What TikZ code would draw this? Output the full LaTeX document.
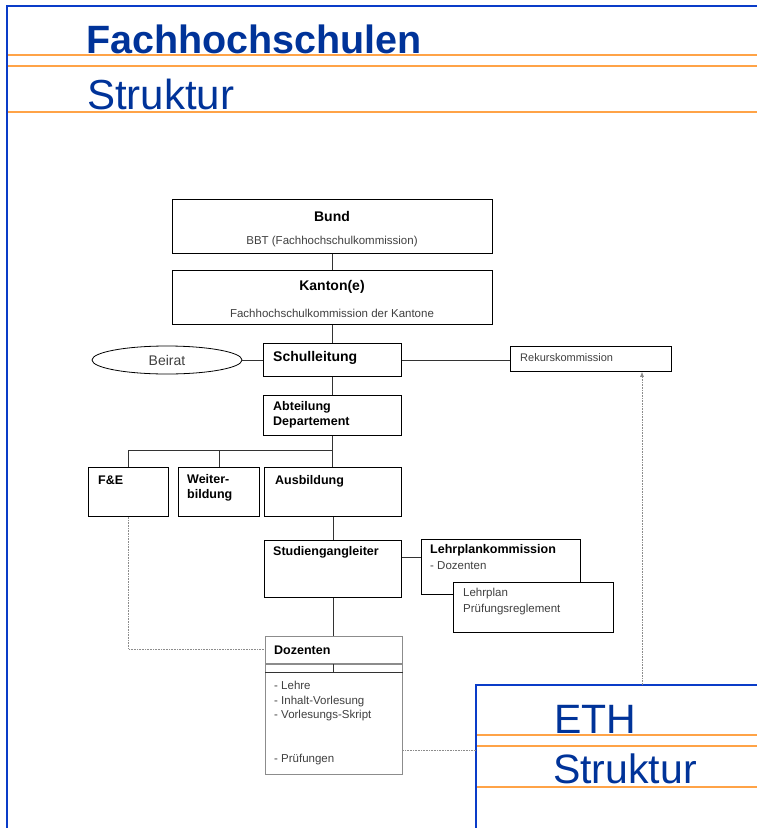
\documentclass[tikz,border=0pt]{standalone}
\usepackage{fontspec}
\setmainfont{Liberation Sans}
\usetikzlibrary{shapes.geometric,arrows.meta}
\definecolor{titleblue}{RGB}{0,51,153}
\definecolor{frameblue}{RGB}{10,60,200}
\definecolor{lineorange}{RGB}{255,163,71}
\definecolor{textgray}{RGB}{64,64,64}
\definecolor{dozgray}{RGB}{140,140,140}

\begin{document}
\begin{tikzpicture}[x=1pt,y=-1pt]
      % Define styles for nodes
      \tikzstyle{box} = [anchor=north west, draw, rectangle, fill=white,
      line width=0.8pt, inner sep=0pt]
      \tikzstyle{dozbox} = [anchor=north west, draw=dozgray, rectangle,
      fill=white, line width=1.3pt, inner sep=0pt]
      \tikzstyle{hdbig} = [inner sep=0pt, font=\fontsize{14}{17}\selectfont\bfseries]
      \tikzstyle{hd} = [inner sep=0pt, align=left,
      font=\fontsize{12.5}{15.5}\selectfont\bfseries]
      \tikzstyle{txt} = [inner sep=0pt, align=left, text=textgray,
      font=\fontsize{11.5}{14.5}\selectfont]
      \tikzstyle{conn} = [line width=0.8pt, black!80]
      \tikzstyle{dotline} = [densely dotted, line width=0.6pt, black!45]
      \tikzstyle{blueframe} = [line width=2pt, frameblue]
      \tikzstyle{orangerule} = [line width=1.2pt, lineorange]
      \tikzstyle{slidetitle} = [anchor=base west, inner sep=0pt, text=titleblue]

      \useasboundingbox (0,0) rectangle (757,828);

      % Slide frame at top
      \draw[blueframe] (7,828) -- (7,6) -- (757,6);
      \draw[orangerule] (8,55) -- (757,55);
      \draw[orangerule] (8,66) -- (757,66);
      \draw[orangerule] (8,112) -- (757,112);
      \node[slidetitle, font=\fontsize{39.5}{40}\selectfont\bfseries] (fhtitle) at (86,53) {Fachhochschulen};
      \node[slidetitle, font=\fontsize{42}{42}\selectfont] (fhsub) at (87,109) {Struktur};

      % Boxes
      \node[box, minimum width=320pt, minimum height=54pt] (bund) at (172,199) {};
      \node[box, minimum width=320pt, minimum height=54pt] (kanton) at (172,270) {};
      \node[box, minimum width=138pt, minimum height=33pt] (schul) at (263,343) {};
      \node[box, minimum width=161pt, minimum height=25pt] (rek) at (510,346) {};
      \node[draw, ellipse, line width=0.8pt, minimum width=150pt, minimum height=28pt,
      inner sep=0pt] (beirat) at (167,360) {};
      \node[box, minimum width=138pt, minimum height=40pt] (abt) at (263,395) {};
      \node[box, minimum width=80pt, minimum height=49pt] (fe) at (88,467) {};
      \node[box, minimum width=81pt, minimum height=49pt] (wb) at (178,467) {};
      \node[box, minimum width=137pt, minimum height=49pt] (ausb) at (264,467) {};
      \node[box, minimum width=137pt, minimum height=57pt] (stud) at (264,540) {};
      \node[box, minimum width=159pt, minimum height=55pt] (lehrk) at (421,539) {};
      \node[box, minimum width=160pt, minimum height=50pt] (lehrp) at (453,582) {};
      \node[dozbox, minimum width=137pt, minimum height=138pt] (doz) at (265,636) {};

      % Texts in the boxes
      \node[hdbig] (bundhd) at (332,216) {Bund};
      \node[txt] (bundtx) at (332,242) {BBT (Fachhochschulkommission)};
      \node[hdbig] (kantonhd) at (332,287) {Kanton(e)};
      \node[txt] (kantontx) at (332,313) {Fachhochschulkommission der Kantone};
      \node[hdbig, anchor=west] (schulhd) at (273,358) {Schulleitung};
      \node[txt, anchor=west, font=\fontsize{11}{13}\selectfont] (rektx) at (520,358) {Rekurskommission};
      \node[txt, font=\fontsize{14}{16}\selectfont] (beirattx) at (167,360) {Beirat};
      \node[hd, anchor=north west] (abthd) at (273,401) {Abteilung\\Departement};
      \node[hd, anchor=west] (fehd) at (98,480) {F\&E};
      \node[hd, anchor=north west] (wbhd) at (187,474) {Weiter-\\bildung};
      \node[hd, anchor=west] (ausbhd) at (275,481) {Ausbildung};
      \node[hd, anchor=west] (studhd) at (273,552) {Studiengangleiter};
      \node[hd, anchor=west] (lehrkhd) at (430,550) {Lehrplankommission};
      \node[txt, anchor=west] (lehrktx) at (430,566) {- Dozenten};
      \node[txt, anchor=north west, font=\fontsize{11.5}{16}\selectfont] (lehrptx) at (463,588) {Lehrplan\\Prüfungsreglement};
      \node[hd, anchor=west] (dozhd) at (274,650) {Dozenten};
      \node[txt, anchor=north west] (doztx) at (274,681) {- Lehre\\- Inhalt-Vorlesung\\- Vorlesungs-Skript};
      \node[txt, anchor=west] (dozpr) at (274,760) {- Prüfungen};

      % Dozenten box divisions
      \draw[dozgray, line width=1.1pt] ([yshift=-28pt]doz.north west) -- ([yshift=-28pt]doz.north east);
      \draw[conn] ([yshift=-36pt]doz.north west) -- ([yshift=-36pt]doz.north east);
      \draw[conn] ([yshift=-28pt]stud.south |- doz.north) -- ([yshift=-36pt]stud.south |- doz.north);

      % Connections
      \draw[conn] (bund.south) -- (kanton.north);
      \draw[conn] (kanton.south) -- (schul.north);
      \draw[conn] (beirat.east) -- (beirat.east -| schul.west);
      \draw[conn] (schul.east) -- (schul.east -| rek.west);
      \draw[conn] (schul.south) -- (abt.north);
      \coordinate (split) at (332,450);
      \draw[conn] (abt.south) -- (abt.south |- ausb.north);
      \draw[conn] (fe.north) |- (split);
      \draw[conn] (wb.north) -- (wb.north |- split);
      \draw[conn] (ausb.south) -- (stud.north);
      \draw[conn] ([yshift=-17pt]stud.north east) -- ([yshift=-17pt]stud.north east -| lehrk.west);
      \draw[conn] (stud.south) -- (stud.south |- doz.north);

      % ETH slide frame
      \fill[white] (476,685) rectangle (757,828);
      \draw[blueframe] (476,828) -- (476,685) -- (757,685);
      \draw[orangerule] (477,735) -- (757,735);
      \draw[orangerule] (477,746) -- (757,746);
      \draw[orangerule] (477,787) -- (757,787);
      \node[slidetitle, font=\fontsize{41}{41}\selectfont] (ethtitle) at (554,733) {ETH};
      \node[slidetitle, font=\fontsize{41}{41}\selectfont] (ethsub) at (553,783) {Struktur};
      \coordinate (ethleft) at (476,750);
      \coordinate (ethtop) at (642,685);

      % Dotted links
      \draw[dotline] (fe.south) |- ([yshift=-13pt]doz.north west);
      \draw[dotline] (doz.east |- ethleft) -- (ethleft);
      \draw[dotline, -{Latex[length=5pt,width=4pt]}] (ethtop) -- (ethtop |- rek.south);
    \end{tikzpicture}
\end{document}
